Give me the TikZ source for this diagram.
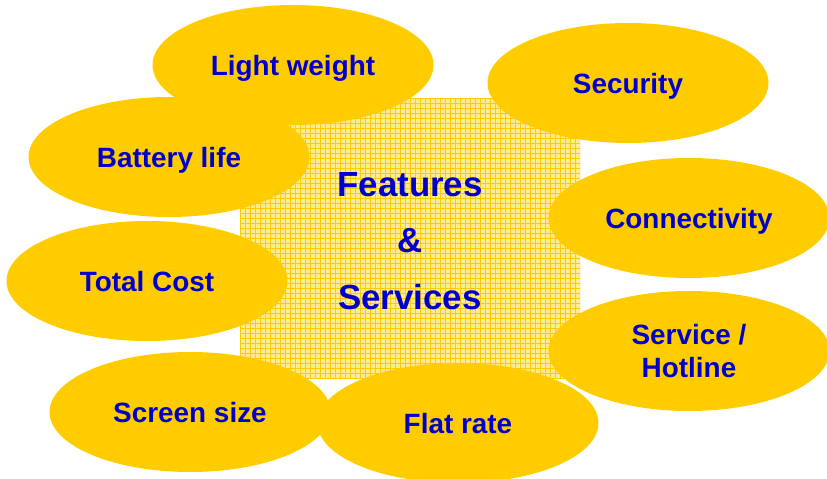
\documentclass[tikz,border=0pt]{standalone}
\usepackage{fontspec}
\setmainfont{Liberation Sans}
\usetikzlibrary{shapes.geometric}
\definecolor{blobyellow}{RGB}{255,204,0}
\definecolor{gridfill}{RGB}{255,234,150}
\definecolor{labelblue}{RGB}{0,0,204}

\begin{document}
\begin{tikzpicture}
[x=1bp,y=-1bp,%
  every node/.style={text=labelblue,font=\bfseries},%
  blobshape/.style={shape=ellipse,fill=blobyellow,inner sep=0pt,
    minimum width=281bp,minimum height=120bp,align=center,
    font=\fontsize{28}{33}\selectfont\bfseries},%
  blob/.style={blobshape,text height=21bp,text depth=0pt},%
  gridbox/.style={shape=rectangle,fill=gridfill,inner sep=0pt,
    minimum width=340bp,minimum height=280bp,
    path picture={\draw[blobyellow,line width=0.4bp,step=5bp]
      (path picture bounding box.south west) grid
      (path picture bounding box.north east);}},%
  title/.style={align=center,inner sep=0pt,
    font=\fontsize{35}{56.5}\selectfont\bfseries}]
\useasboundingbox (0,0) rectangle (827,479);
% centre square
\node[gridbox] (core) at (410,238) {};
\node[title] (heading) at ([yshift=-3bp]core.center) {Features\\\&\\Services};
% ellipses round it
\node[blob] (battery) at (169,157) {Battery life};
\node[blob] (weight) at (293,65) {Light weight};
\node[blob] (security) at (628,83) {Security};
\node[blob] (connect) at (689,218) {Connectivity};
\node[blob] (cost) at (147,281) {Total Cost};
\node[blobshape] (hotline) at (689,351) {Service /\\Hotline};
\node[blob] (screen) at (190,412) {Screen size};
\node[blob] (flatrate) at (458,423) {Flat rate};
\end{tikzpicture}
\end{document}
